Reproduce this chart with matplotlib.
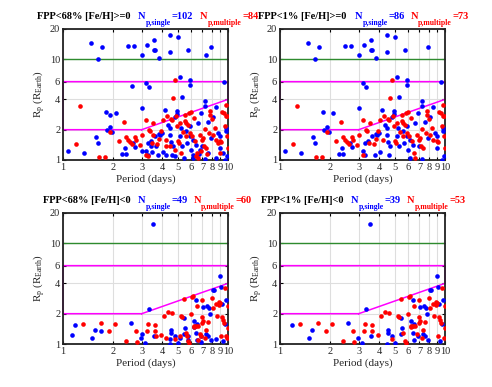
import matplotlib
matplotlib.use("Agg")
import matplotlib.pyplot as plt
from matplotlib.ticker import NullLocator

plt.rcParams["font.family"] = ["Liberation Serif", "DejaVu Serif"]
plt.rcParams["mathtext.fontset"] = "custom"
plt.rcParams["mathtext.rm"] = "Liberation Serif"
plt.rcParams["mathtext.it"] = "Liberation Serif:italic"
plt.rcParams["mathtext.bf"] = "Liberation Serif:bold"

# --- data (period in days, radius in Earth radii) ---
# [Fe/H] >= 0, FPP < 68%
top_single_P = [1.48, 1.73, 1.63, 2.48, 2.71, 3.03, 3.25, 3.56, 3.55, 3.61, 3.80, 4.43, 4.47, 4.98, 5.72,
                7.39, 7.89, 5.09, 5.86, 5.91, 9.50, 3.17, 3.31, 2.63, 5.29, 3.03, 4.17, 4.93, 4.91, 7.22,
                7.28, 8.50, 6.89, 8.11, 7.56, 1.83, 1.94, 1.85, 1.94, 1.99, 1.58, 1.63, 1.07, 1.34, 2.29,
                2.42, 2.72, 3.20, 3.27, 3.42, 3.47, 3.63, 3.80, 3.85, 3.78, 4.04, 4.19, 4.35, 4.43, 4.47,
                4.54, 4.58, 4.80, 4.77, 5.09, 5.26, 5.41, 5.64, 5.86, 5.91, 6.00, 6.14, 6.14, 6.43, 6.67,
                6.99, 7.28, 7.93, 8.70, 8.90, 9.33, 9.64, 9.77, 9.89, 2.10, 3.27, 3.03, 2.36, 8.50, 4.64,
                5.17, 6.58, 6.73, 7.56, 5.59, 4.00, 8.90, 9.68, 3.68, 6.14, 3.43, 2.66]
top_single_R = [14.4, 13.2, 10.1, 13.6, 13.6, 11.0, 14.0, 15.5, 12.3, 12.3, 10.2, 17.4, 11.7, 16.8, 12.3,
                11.1, 13.3, 6.74, 6.16, 5.62, 5.97, 5.79, 5.29, 5.45, 4.21, 3.27, 3.15, 3.08, 2.86, 3.87,
                3.45, 3.35, 2.92, 2.65, 2.38, 2.97, 2.79, 1.97, 2.12, 1.88, 1.69, 1.49, 1.24, 1.17, 1.16,
                1.14, 1.34, 1.22, 1.13, 1.53, 1.21, 1.74, 1.82, 1.77, 1.12, 1.19, 1.13, 2.24, 2.07, 1.78,
                1.50, 1.13, 1.09, 2.67, 1.72, 1.37, 1.05, 1.47, 2.16, 1.72, 1.27, 1.13, 1.05, 1.42, 1.16,
                1.37, 1.02, 1.65, 1.85, 1.32, 1.17, 1.01, 2.07, 1.09, 2.90, 1.47, 1.22, 1.32, 1.05, 1.37,
                2.07, 2.33, 1.27, 1.17, 1.92, 1.85, 1.72, 1.95, 1.37, 1.59, 1.37, 1.47]
top_multi_P = [1.26, 1.20, 1.65, 1.79, 1.92, 2.18, 2.34, 2.42, 2.48, 2.56, 2.61, 2.72, 2.78, 2.92, 3.03,
               3.20, 3.20, 3.27, 3.32, 3.35, 3.47, 3.51, 3.71, 3.82, 3.94, 4.19, 4.23, 4.54, 4.58, 4.64,
               4.80, 4.86, 4.91, 5.09, 4.98, 5.02, 5.21, 5.34, 5.46, 5.54, 5.59, 5.72, 5.80, 5.91, 6.00,
               6.08, 6.22, 6.28, 6.43, 6.49, 6.58, 6.89, 6.99, 7.06, 7.12, 7.22, 7.39, 7.46, 7.67, 7.74,
               7.82, 8.02, 8.11, 8.30, 8.50, 8.70, 8.90, 8.99, 9.24, 9.41, 9.55, 9.68, 9.77, 9.84, 9.89,
               9.98, 9.07, 6.73, 4.75, 4.47, 3.51, 4.04, 4.29, 5.51]
top_multi_R = [3.45, 1.43, 1.06, 1.07, 1.88, 1.55, 2.36, 1.69, 1.59, 1.50, 1.45, 1.68, 1.59, 1.40, 1.78,
               2.51, 1.13, 1.10, 2.00, 1.92, 1.47, 1.78, 1.43, 1.61, 1.92, 1.57, 1.39, 2.55, 2.51, 4.11,
               6.25, 2.71, 2.16, 2.33, 1.53, 1.47, 1.17, 1.88, 2.81, 1.72, 2.33, 2.24, 2.92, 1.85, 3.03,
               1.72, 2.61, 1.53, 1.10, 1.17, 1.05, 1.22, 1.59, 1.65, 1.37, 2.03, 1.32, 1.15, 1.85, 2.81,
               3.08, 2.57, 1.78, 2.07, 1.59, 1.47, 1.53, 1.17, 3.03, 2.92, 2.16, 2.71, 3.53, 2.75, 1.72,
               1.32, 1.50, 1.78, 1.27, 1.39, 2.33, 2.51, 2.71, 2.42]
# points (1-based) of the FPP<68% set that are not in the FPP<1% set
top_single_drop = [16, 24, 37, 51, 57, 63, 67, 72, 75, 81, 87, 89, 93, 94, 99, 101]
top_multi_drop = [18, 22, 27, 37, 49, 52, 58, 66, 68, 79, 80]

# [Fe/H] < 0, FPP < 68%
bot_single_P = [3.51, 8.99, 9.07, 8.23, 8.11, 9.77, 9.24, 6.37, 7.06, 7.46, 7.67, 7.74, 3.31, 2.57, 1.18,
                1.14, 1.56, 1.50, 1.71, 2.98, 3.01, 3.15, 3.56, 4.49, 4.54, 4.43, 4.47, 4.75, 4.98, 5.39,
                5.41, 5.46, 5.75, 6.19, 6.28, 6.43, 6.52, 6.52, 6.83, 7.39, 7.56, 7.93, 8.50, 9.33, 9.55,
                6.25, 6.86, 5.09, 5.72]
bot_single_R = [15.4, 4.77, 3.65, 3.46, 3.41, 2.71, 2.50, 2.76, 2.33, 2.37, 2.30, 1.99, 2.24, 1.62, 1.56,
                1.22, 1.37, 1.16, 1.34, 1.15, 1.26, 1.02, 1.19, 1.39, 1.29, 1.12, 1.01, 1.19, 1.02, 1.81,
                1.27, 1.44, 1.19, 1.68, 1.52, 1.29, 1.58, 1.09, 1.04, 1.27, 1.21, 1.10, 1.12, 1.06, 1.58,
                1.47, 1.21, 1.15, 1.10]
bot_multi_P = [1.32, 1.71, 1.90, 2.06, 2.40, 2.80, 2.76, 3.27, 3.59, 3.25, 3.63, 3.65, 3.94, 4.10, 4.23,
               4.33, 4.58, 4.75, 5.17, 5.29, 5.39, 5.59, 5.67, 5.72, 5.80, 6.00, 6.06, 6.16, 6.19, 6.22,
               6.43, 6.52, 6.61, 6.73, 6.83, 6.96, 6.99, 7.02, 7.39, 7.56, 8.02, 8.11, 8.50, 8.58, 8.82,
               8.90, 9.11, 9.20, 9.33, 9.41, 9.55, 9.77, 9.84, 9.95, 9.98, 7.28, 6.99, 6.61, 5.09, 8.78]
bot_multi_R = [1.57, 1.62, 1.35, 1.57, 1.06, 1.05, 1.35, 1.57, 1.54, 1.35, 1.36, 1.21, 1.22, 1.91, 1.15,
               2.08, 2.03, 1.13, 1.88, 1.84, 2.80, 1.29, 1.19, 1.06, 1.02, 2.00, 2.91, 2.97, 1.49, 1.52,
               1.52, 2.37, 1.50, 1.27, 1.19, 2.76, 1.84, 1.70, 1.39, 1.64, 2.84, 2.28, 2.52, 1.88, 2.59,
               2.55, 1.21, 1.84, 1.74, 1.62, 3.60, 1.19, 1.16, 2.37, 1.44, 1.15, 1.62, 1.10, 1.19, 2.46]
bot_single_drop = [16, 19, 21, 26, 33, 39, 43, 46, 48, 49]
bot_multi_drop = [12, 15, 23, 35, 52, 58, 59]

# planet-class boundaries
giant_R = 10
box_P = [3, 10, 10, 1, 1, 3]
box_R = [2, 4, 6, 6, 2, 2]

period_ticks = [1, 2, 3, 4, 5, 6, 7, 8, 9, 10]
radius_ticks = [1, 2, 4, 6, 10, 20]

BLUE = "#0000ff"
RED = "#ff0000"


def keep(values, drop):
    return [v for i, v in enumerate(values, start=1) if i not in drop]


def count_label(ax, x, y, sub, count, color):
    # "N" + lowered subscript + "=count", MATLAB-style
    kw = dict(fontweight="bold", color=color, va="baseline", ha="left")
    t1 = ax.text(x, y, "N", transform=ax.transAxes, fontsize=7.5, **kw)
    t2 = ax.annotate(sub, xy=(1, y), xycoords=(t1, ax.transAxes), xytext=(0.3, -4.5),
                     textcoords="offset points", fontsize=5.6, **kw)
    ax.annotate("=" + str(count), xy=(1, y), xycoords=(t2, ax.transAxes), xytext=(0.2, 0),
                textcoords="offset points", fontsize=7.5, **kw)


def draw_panel(ax, sP, sR, mP, mR, title, n_single, n_multi, x_title, x_single, x_multi):
    ax.set_xscale("log")
    ax.set_yscale("log")
    ax.set_xlim(1, 10)
    ax.set_ylim(1, 20)

    ax.set_xticks(period_ticks)
    ax.set_xticklabels([str(t) for t in period_ticks])
    ax.set_yticks(radius_ticks)
    ax.set_yticklabels([str(t) for t in radius_ticks])
    ax.xaxis.set_minor_locator(NullLocator())
    ax.yaxis.set_minor_locator(NullLocator())
    ax.tick_params(direction="in", top=True, right=True, length=2.5, width=0.8,
                   labelsize=7.5, pad=2, labelcolor="#262626")
    ax.grid(True, color="#dedede", lw=0.8)
    ax.set_axisbelow(True)
    for sp in ax.spines.values():
        sp.set_linewidth(1.3)
        sp.set_color("#222222")

    ax.axhline(giant_R, color="#2e8b2e", lw=1.0, zorder=2)
    ax.plot(box_P, box_R, color="#ff00ff", lw=1.1, zorder=2, clip_on=False)

    ax.scatter(sP, sR, s=11, color=BLUE, linewidths=0, zorder=3)
    ax.scatter(mP, mR, s=11, color=RED, linewidths=0, zorder=3)

    ax.set_xlabel("Period (days)", fontsize=8, labelpad=2, color="#262626")
    ax.set_ylabel(r"R$_\mathrm{p}$ (R$_\mathrm{Earth}$)", fontsize=8, labelpad=2, color="#262626")

    y_t = 1.08
    ax.text(x_title, y_t, title, transform=ax.transAxes, fontsize=7.5,
            fontweight="bold", color="black")
    count_label(ax, x_single, y_t, "p,single", n_single, BLUE)
    count_label(ax, x_multi, y_t, "p,multiple", n_multi, RED)


fig = plt.figure(figsize=(4.92, 3.87), dpi=100)
w, h = 165 / 492, 131 / 387
ax1 = fig.add_axes([63 / 492, 1 - 160 / 387, w, h])
ax2 = fig.add_axes([280 / 492, 1 - 160 / 387, w, h])
ax3 = fig.add_axes([63 / 492, 1 - 344 / 387, w, h])
ax4 = fig.add_axes([280 / 492, 1 - 344 / 387, w, h])

draw_panel(ax1, top_single_P, top_single_R, top_multi_P, top_multi_R,
           "FPP<68% [Fe/H]>=0", len(top_single_P), len(top_multi_P), -0.16, 0.455, 0.83)
draw_panel(ax2, keep(top_single_P, top_single_drop), keep(top_single_R, top_single_drop),
           keep(top_multi_P, top_multi_drop), keep(top_multi_R, top_multi_drop),
           "FPP<1% [Fe/H]>=0", len(top_single_P) - len(top_single_drop),
           len(top_multi_P) - len(top_multi_drop), -0.135, 0.455, 0.79)
draw_panel(ax3, bot_single_P, bot_single_R, bot_multi_P, bot_multi_R,
           "FPP<68% [Fe/H]<0", len(bot_single_P), len(bot_multi_P), -0.12, 0.455, 0.79)
draw_panel(ax4, keep(bot_single_P, bot_single_drop), keep(bot_single_R, bot_single_drop),
           keep(bot_multi_P, bot_multi_drop), keep(bot_multi_R, bot_multi_drop),
           "FPP<1% [Fe/H]<0", len(bot_single_P) - len(bot_single_drop),
           len(bot_multi_P) - len(bot_multi_drop), -0.115, 0.43, 0.77)

fig.savefig("out.png", dpi=100)
